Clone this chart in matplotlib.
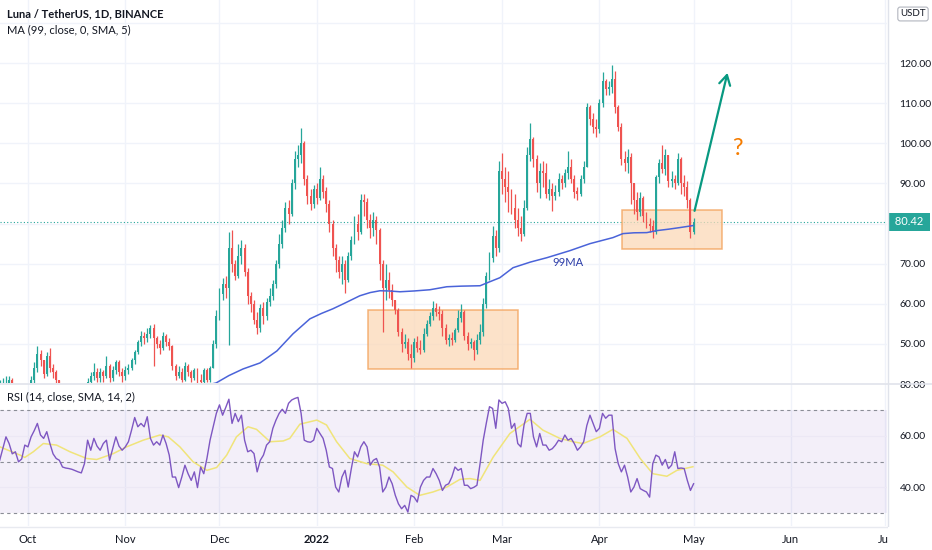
import numpy as np
import matplotlib
matplotlib.use("Agg")
import matplotlib.pyplot as plt
from matplotlib.lines import Line2D
from matplotlib.patches import Rectangle

W, H = 932, 550

# daily candles, day 0 = 1 Oct 2021
first_day = -9
first_open = 37.0
closes = [38, 39, 40, 41, 39, 36, 35, 36, 35, 37,
          41, 44, 47.5, 46, 42.5, 47, 44, 43, 41, 38.5,
          37, 38, 36.5, 37.5, 38.5, 37, 38, 39, 40.5,
          42, 43, 41.5, 43, 42, 44.5, 41.5, 43.5, 45.5, 43, 42, 43.5,
          44, 46, 48, 50.5, 52, 51.5, 52.5, 54, 51.5, 50, 49, 52, 50.5, 49.5, 44.5,
          42, 43, 41, 44.5, 43, 41.5, 43.5, 41, 40.5, 43.5, 41, 44,
          50, 57, 62.5, 65, 64, 74, 70, 67, 72, 74, 68, 62,
          60, 56, 54, 59, 57, 60.5, 62, 65, 70, 75, 79, 84,
          82.5, 90, 96, 97, 100, 91, 87, 85, 88.5, 86.5, 91, 88, 85, 80, 74, 71,
          68, 70, 66, 72, 76, 80, 78, 86, 85.5, 81, 79, 81, 78.5, 70, 64,
          66, 63.5, 61, 58.5, 53, 50, 50.5, 47.5, 46.5, 50.5,
          49, 48.5, 52.5, 55, 57, 59, 58, 57.5, 54, 51,
          51.5, 51, 53.5, 56.5, 58, 52, 50, 50.5, 48.5, 51, 53, 60, 67,
          71.5, 77, 74, 93, 91, 89,
          88, 84, 81, 79, 77.5, 84, 97, 101, 96, 90,
          93, 92.5, 87.5, 88.5, 87, 88, 91, 90, 92.5, 94,
          91, 88, 87.5, 91, 94, 109, 106, 104, 103.5, 110,
          115.5, 113.5, 114, 116, 109, 104, 96, 95, 96.5, 90,
          86, 83, 86.5, 82, 80, 79.5, 78, 91.5, 95, 93.5,
          97, 90.5, 91, 90, 96, 90, 89, 86, 78, 80.42]
highs = [41, 41.5, 42, 42, 41.5, 39.5, 37, 38, 37.5, 39,
         42, 45.5, 49.5, 48.5, 46, 48, 49, 45, 43.5, 41,
         39, 39.5, 38.5, 39, 39.8, 39.5, 39.5, 40, 41.5,
         43, 45.3, 44, 44, 43.5, 47, 45, 44.5, 46, 46, 44, 44.5,
         45, 46.5, 48.5, 51, 53.3, 53, 54, 54.8, 55, 52, 51, 53, 52.5, 51.5, 49.8,
         45, 44.5, 44, 45.5, 45, 43.5, 44, 44, 42.5, 44, 44, 44.5,
         51, 58.5, 64, 66.5, 67, 78, 78.3, 71, 75, 76, 75, 69,
         63, 61, 58, 60, 60.5, 61.5, 64, 66, 71, 77.5, 81, 85.5,
         86, 91, 98, 99.5, 103.75, 100.5, 92, 88.5, 89.5, 90, 94, 92, 89, 86, 81, 75,
         72, 72, 71, 73, 77, 82, 82.5, 87.5, 87.5, 86.5, 82.5, 83, 82, 79, 71,
         70, 68, 65, 61, 59, 54, 52.5, 51.5, 50, 51.5,
         52, 51, 54, 56, 58, 60.75, 60.3, 59.5, 58.5, 55,
         52.5, 53, 54, 58.5, 60, 58.5, 53, 51.5, 51, 52.5, 55, 61.5, 68,
         73, 79.5, 78.5, 95.5, 97.5, 94,
         93, 88.5, 87.5, 84, 82, 86, 99, 105, 101.5, 97,
         95, 95.5, 95, 91, 90, 89.5, 92.5, 92, 93.5, 98,
         96, 92, 89, 92, 95.5, 110, 109.5, 107.5, 106, 111,
         117.75, 116, 115.5, 119.5, 118, 109.5, 105, 98, 98.5, 97.5,
         90, 88, 88, 87, 83, 81.5, 81, 92, 96, 99.5,
         98.5, 97, 93, 92, 97.5, 96.5, 92, 90.5, 86.5, 81.5]
lows = [36, 37, 38, 39, 38, 34, 33, 34, 33, 34,
        37, 40, 43, 44.5, 41.5, 42, 43, 41.5, 39.5, 37,
        35.5, 36, 35, 36, 37, 36, 36.5, 37.5, 38,
        40, 41, 40.5, 40.5, 40.5, 41.5, 40.5, 40.8, 42.5, 42, 40.5, 41,
        42.5, 43.5, 45, 47.5, 49.5, 50, 50.5, 51.5, 44.5, 49, 47.5, 48.5, 49.5, 48.5, 43.5,
        41, 41.5, 40.5, 40.8, 42, 40.5, 41, 40.3, 39.5, 40.2, 40.4, 40.5,
        44, 49, 56, 61, 61.5, 49.75, 68, 66, 66.5, 70, 67, 60,
        58, 55, 52.5, 53, 55, 56, 59.5, 61, 64, 69, 74, 78,
        80, 82, 88.5, 94, 95, 89.5, 85, 83.5, 84, 85, 86, 86.5, 83, 78, 72, 68,
        66.5, 65, 62.75, 65.5, 71, 75, 76, 77.5, 82, 79, 76.5, 77, 75, 66, 53,
        61, 61.5, 59.5, 57.5, 52, 48, 49, 46, 44, 45.5,
        48, 47.5, 48, 52, 54.5, 56, 57, 56, 52, 50,
        49.5, 49.8, 50.5, 53, 55.5, 51, 48.5, 49, 46, 47.5, 50, 52, 59,
        66, 70.5, 72, 73, 87.5, 85.5,
        83, 82.5, 79, 77, 75.75, 77, 83.5, 95.5, 94, 88,
        86.5, 89, 86.5, 86, 83.25, 86, 87, 88.5, 89, 91,
        90, 86.5, 86, 87, 90, 94, 104.5, 102.5, 101.5, 102.5,
        109, 112, 112, 112.5, 107.5, 103, 94.5, 93, 92.5, 85,
        82.5, 81, 82, 80.5, 79, 78, 76.5, 77.5, 90, 92.5,
        92, 89, 89, 88.5, 89.5, 87.5, 87, 84, 76.5, 77.5]

# 99 day moving average
ma_day = [50, 59.9, 64, 68.5, 73.9, 79.3, 84.4, 89.8, 93.5, 97.1, 101, 105.7,
          109, 112.1, 115, 118.5, 123, 128, 133.4, 138, 144, 147.1, 150.3,
          154.5, 160, 165.3, 172.6, 179, 186.3, 189.5, 193, 197.1, 200.3,
          204, 207.6, 211.8]
ma_val = [38.5, 40.25, 42.1, 43.75, 45.25, 48.25, 52.5, 56.25, 57.6, 58.75, 60.2, 62,
          62.8, 63.25, 63.2, 63, 63.2, 63.5, 64.25, 64.4, 64.5, 65.5, 66.5,
          69, 70.4, 71.5, 73.25, 75, 76.5, 77.5, 77.7, 77.75, 78.25,
          78.6, 79, 79.5]

# RSI(14), one value per candle
rsi = [50.5, 55, 59.6, 57, 53, 53.8, 49.9, 51, 56.4, 55.7,
       59.6, 62, 64.8, 60.3, 59, 61.6, 57, 53, 51.2, 50.5,
       47.9, 47.5, 47.3, 47, 46.5, 46, 45.6, 49.2, 58.3, 54.4,
       59, 56, 54.4, 57, 58.3, 50.5, 55, 59.6, 56, 54.4,
       55.7, 57.7, 62.2, 67.1, 63.5, 64.8, 63.5, 67.4, 59, 56.4,
       57.7, 56.4, 60.3, 57, 52.5, 44, 44, 39.9, 44, 48.6,
       45.3, 42.7, 46, 39.9, 47.9, 45.3, 51.2, 58.3, 63.5, 68.7,
       72, 68, 71, 74.2, 64.8, 68.7, 65.5, 68, 58.3, 53.8,
       54.4, 53.1, 46, 50.5, 52.5, 56.4, 57.7, 62.9, 66.1, 68.7,
       70.3, 68.7, 72.6, 73.9, 74.5, 74.9, 68.7, 58.3, 57.7, 57.5,
       58.3, 62.9, 60.9, 59, 54.4, 47.9, 47.3, 40.1, 38.2, 44,
       46.6, 40.1, 47.3, 53.8, 51.8, 55.7, 57.7, 55.7, 48.6, 50.5,
       51.2, 47.9, 38.2, 40.1, 44, 41.4, 36.9, 33.6, 31.7, 33,
       30.4, 36.9, 36.2, 34.3, 40.1, 42.7, 44, 44, 47.3, 45.3,
       42.7, 38.8, 40.8, 41.4, 44, 47.9, 46.6, 47.3, 40.8, 40.8,
       39.5, 40, 40.8, 49.2, 58.3, 65, 71.3, 70.6, 62.9, 73.9,
       72.6, 73.2, 70.6, 62.9, 64.8, 57, 55.7, 64.2, 68.7, 68.7,
       59.6, 55.7, 60.9, 56.4, 56.4, 54.4, 55, 56.4, 58.3, 57.7,
       60.3, 58.3, 59, 57, 54.4, 55.7, 57.7, 64, 68, 64.8,
       61.6, 62.9, 68.7, 66.8, 68, 68, 55, 49.2, 46, 48.6,
       44, 38.2, 40.1, 43.4, 39.5, 38.8, 38.2, 36.2, 49.2, 52.5,
       51.8, 48.6, 50.8, 47.3, 48.6, 53.8, 47.3, 47.5, 47.3, 42.7,
       38.8, 41.4]

# RSI-based MA (yellow)
sig_day = [-8.9, -2.5, -1, 1.7, 4.9, 9.1, 13.4, 18.7, 21.9, 27.2, 31.4, 36.7, 42,
           44.7, 48.4, 52.6, 57, 60.1, 63.3, 66.4, 70.1, 72.8, 77.1, 81.3, 83.4,
           86.6, 92, 95.1, 98.3, 102.5, 107.9, 113, 116.3, 120.7, 124.8, 129,
           133.4, 137.6, 140.8, 144, 148.2, 153.5, 159.9, 164, 169.4, 173.6,
           176.8, 182.2, 186.3, 190.8, 195, 199, 203.5, 206.7, 211.8]
sig_val = [55.7, 52.5, 51.6, 53.8, 57, 56.4, 53.8, 51.2, 50.8, 53.1, 55.7, 58.3, 60.3,
           59.6, 55.7, 49.9, 46.6, 47.7, 52.5, 59.6, 63.5, 62.5, 57.7, 58, 59,
           64.5, 66.1, 64.2, 57.7, 51.2, 49.2, 48.6, 46, 40.1, 36.9, 38.2,
           40.1, 43.1, 43.4, 42.7, 51.8, 60.9, 66.4, 62.2, 59, 57.7,
           57, 59.6, 62.5, 59, 51.2, 45.3, 44.3, 46.6, 48]

month_days = [0, 31, 61, 92, 123, 151, 182, 212, 243, 273]
month_labels = ['Oct', 'Nov', 'Dec', '2022', 'Feb', 'Mar', 'Apr', 'May', 'Jun', 'Jul']
price_ticks = [50, 60, 70, 80, 90, 100, 110, 120]
rsi_ticks = [40, 60, 80]
last_price = 80.42

GREEN = '#26a69a'
RED = '#ef5350'
GRID = '#f0f3fa'
TXT = '#131722'

plt.rcParams['font.family'] = ['Lato', 'DejaVu Sans']


def fx(px):
    return px / W


def fy(py):
    return 1 - py / H


def main():
    fig = plt.figure(figsize=(W / 100, H / 100), dpi=100, facecolor='white')
    axp = fig.add_axes([0, fy(383), fx(887), 383 / H])
    axr = fig.add_axes([0, fy(526), fx(887), (526 - 384) / H], sharex=axp)

    c = np.array(closes, dtype=float)
    hi = np.array(highs, dtype=float)
    lo = np.array(lows, dtype=float)
    assert len(c) == len(hi) == len(lo) == len(rsi)
    days = np.arange(first_day, first_day + len(c))
    o = np.r_[first_open, c[:-1]]
    hi = np.maximum(hi, np.maximum(o, c))
    lo = np.minimum(lo, np.minimum(o, c))
    up = c >= o
    col = np.where(up, GREEN, RED)

    for ax in (axp, axr):
        for s in ax.spines.values():
            s.set_visible(False)
        for d in month_days:
            ax.axvline(d, color=GRID, lw=1, zorder=0)

    # price pane
    for p in price_ticks + [130]:
        axp.axhline(p, color=GRID, lw=1, zorder=0)
    axp.vlines(days, lo, hi, colors=col, lw=0.9, zorder=3)
    axp.bar(days, np.maximum(np.abs(c - o), 0.25), bottom=np.minimum(o, c),
            width=0.62, color=col, zorder=4)
    axp.plot(ma_day, ma_val, color='#4a63d9', lw=1.1, zorder=5)
    axp.axhline(last_price, color=GREEN, lw=0.8, ls=(0, (1, 2)), zorder=2)

    axp.add_patch(Rectangle((108.3, 43.75), 156 - 108.3, 58.5 - 43.75,
                            fc='#fbd9b8', ec='#f29d52', lw=1.1, alpha=0.75, zorder=2))
    axp.add_patch(Rectangle((189.2, 73.75), 221 - 189.2, 83.5 - 73.75,
                            fc='#fbd9b8', ec='#f29d52', lw=1.1, alpha=0.75, zorder=2))
    axp.annotate('', xy=(223, 118.25), xytext=(212.1, 82.5),
                 arrowprops=dict(arrowstyle='->,head_length=0.7,head_width=0.4',
                                 color='#089981', lw=1.6), zorder=6)
    axp.text(225.8, 98.75, '?', color='#f57c00', fontsize=17, ha='center',
             va='center')
    axp.text(172, 70.3, '99MA', color='#2c3da8', fontsize=8, ha='center', va='center')

    axp.set_ylim(40.25, 135.75)
    axp.set_xlim(-8.9, 273.6)
    axp.yaxis.tick_right()
    axp.set_yticks(price_ticks)
    # the last-price tag covers the 80.00 label
    axp.set_yticklabels(['' if p == 80 else f'{p:.2f}' for p in price_ticks])
    axp.tick_params(axis='y', length=0, pad=9, labelsize=7.5, labelcolor=TXT)
    axp.tick_params(axis='x', length=0, labelbottom=False)
    axp.text(1.0 + 5 / 887, last_price, f' {last_price:.2f} ', transform=axp.get_yaxis_transform(),
             color='white', fontsize=8, va='center', ha='left',
             bbox=dict(boxstyle='square,pad=0.35', fc=GREEN, ec='none'))

    # RSI pane
    axr.axhspan(30, 70, color='#7e57c2', alpha=0.09, lw=0, zorder=0)
    for r in (40, 60):
        axr.axhline(r, color='#ece8f5', lw=0.8, zorder=1)
    for r in (70, 50, 30):
        axr.axhline(r, color='#8a8d96', lw=0.8, ls=(0, (3, 3)), zorder=1)
    axr.plot(days, rsi, color='#7e57c2', lw=1.0, zorder=3)
    axr.plot(sig_day, sig_val, color='#f0e47a', lw=1.1, zorder=2)
    axr.set_ylim(25, 80.1)
    axr.yaxis.tick_right()
    axr.set_yticks(rsi_ticks)
    axr.set_yticklabels([f'{r:.2f}' for r in rsi_ticks])
    axr.tick_params(axis='y', length=0, pad=9, labelsize=7.5, labelcolor=TXT)
    axr.set_xticks(month_days)
    axr.set_xticklabels(month_labels)
    axr.tick_params(axis='x', length=0, pad=6, labelsize=8, labelcolor=TXT)
    for lab in axr.get_xticklabels():
        if lab.get_text() == '2022':
            lab.set_fontweight('bold')

    # frame lines
    fig.add_artist(Line2D([0, 1], [fy(383.5)] * 2, transform=fig.transFigure,
                          color='#e0e3eb', lw=1.2))
    fig.add_artist(Line2D([0, fx(887)], [fy(526.5)] * 2, transform=fig.transFigure,
                          color='#e8eaf0', lw=1))
    fig.add_artist(Line2D([fx(887.5)] * 2, [fy(527), 1], transform=fig.transFigure,
                          color='#e0e3eb', lw=1))
    fig.add_artist(Rectangle((fx(888), 0), 1 - fx(888), fy(527), transform=fig.transFigure,
                             fc='white', ec='none', zorder=10))

    fig.text(fx(7), fy(14), 'Luna / TetherUS, 1D, BINANCE', fontsize=8, fontweight='bold',
             color=TXT, va='center')
    fig.text(fx(7), fy(30), 'MA (99, close, 0, SMA, 5)', fontsize=8, color=TXT, va='center')
    fig.text(fx(7), fy(397), 'RSI (14, close, SMA, 14, 2)', fontsize=8, color=TXT, va='center')
    fig.text(fx(913), fy(14), 'USDT', fontsize=7, color=TXT, ha='center', va='center',
             bbox=dict(boxstyle='round,pad=0.25', fc='white', ec='#b2b5be', lw=0.8))

    fig.savefig('out.png', dpi=100, facecolor='white')


if __name__ == '__main__':
    main()
